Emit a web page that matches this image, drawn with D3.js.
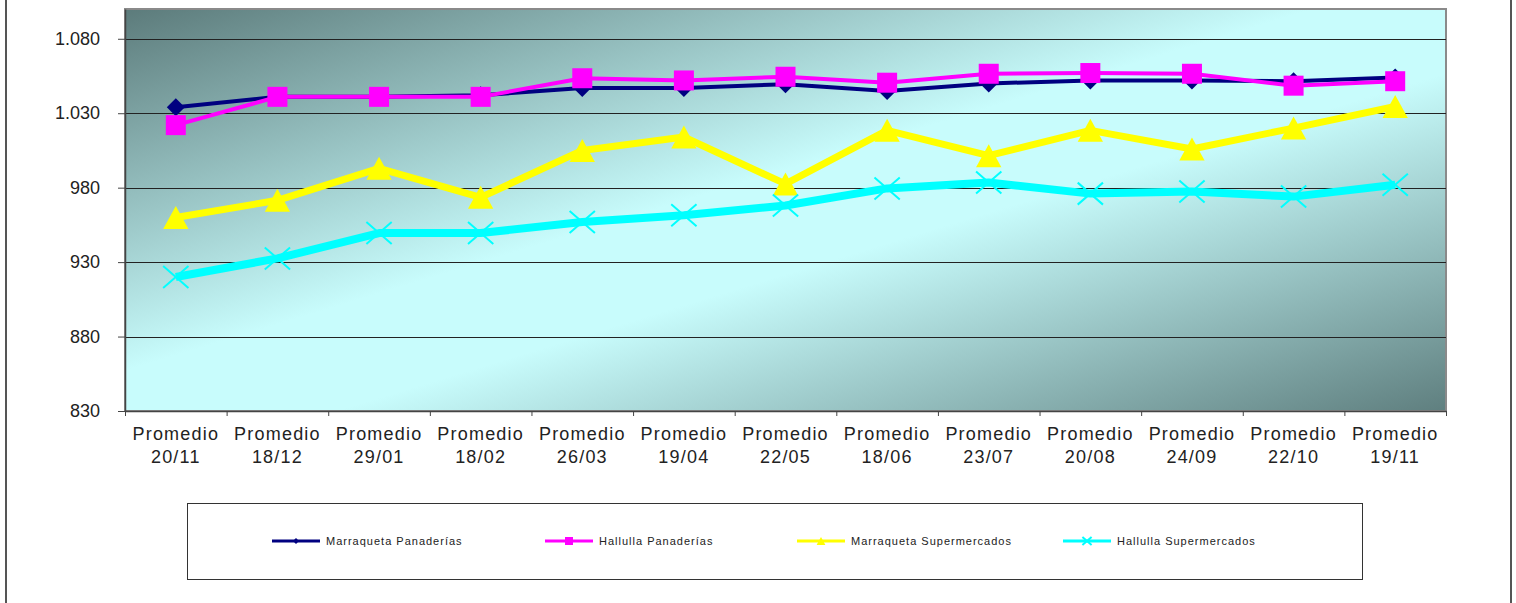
<!DOCTYPE html>
<html>
<head>
<meta charset="utf-8">
<script src="https://cdn.jsdelivr.net/npm/d3@7"></script>
<style>
  body { margin: 0; background: #fff; }
  text { font-family: Arial, "Liberation Sans", sans-serif; fill: #222; }
</style>
</head>
<body>
<svg width="1516" height="603"></svg>
<script>
// data
var fechas = ["20/11", "18/12", "29/01", "18/02", "26/03", "19/04", "22/05",
              "18/06", "23/07", "20/08", "24/09", "22/10", "19/11"];
var marraquetaPanaderias = [1034, 1041, 1041, 1042, 1047, 1047, 1049.5, 1045, 1050, 1052, 1052, 1051.5, 1054];
var hallullaPanaderias = [1022, 1041, 1041, 1041, 1053.5, 1052, 1054.5, 1050.5, 1056.5, 1057, 1056.5, 1048.5, 1051.5];
var marraquetaSuper = [960, 971.5, 993, 973.5, 1005, 1014, 982.5, 1018.5, 1001.5, 1018.5, 1006, 1020, 1034.5];
var hallullaSuper = [920, 932.5, 949.5, 949.5, 957, 961.5, 968, 979.5, 983.5, 976, 977.5, 974, 982];
var yTicks = [830, 880, 930, 980, 1030, 1080];

var series = [
  { name: "Marraqueta Panaderías", values: marraquetaPanaderias, color: "#000080", width: 4, marker: "diamond" },
  { name: "Hallulla Panaderías", values: hallullaPanaderias, color: "#ff00ff", width: 4, marker: "square" },
  { name: "Marraqueta Supermercados", values: marraquetaSuper, color: "#ffff00", width: 7, marker: "triangle" },
  { name: "Hallulla Supermercados", values: hallullaSuper, color: "#00ffff", width: 8, marker: "x" }
];

var svg = d3.select("svg");
var plotL = 125, plotR = 1446, plotT = 9, plotB = 411;

var x = d3.scaleBand().domain(fechas).range([plotL, plotR]);
var xEdge = d3.scaleLinear().domain([0, fechas.length]).range([plotL, plotR]);
var y = d3.scaleLinear().domain([830, 1100]).range([plotB, plotT]);

var fmt = d3.formatLocale({ decimal: ",", thousands: ".", grouping: [3], currency: ["$", ""] }).format(",");

// outer frame (only the sides show)
svg.append("line").attr("x1", 6).attr("x2", 6).attr("y1", 0).attr("y2", 603)
  .attr("stroke", "#555").attr("stroke-width", 2);
svg.append("line").attr("x1", 1511).attr("x2", 1511).attr("y1", 0).attr("y2", 603)
  .attr("stroke", "#555").attr("stroke-width", 2);

// plot background
var defs = svg.append("defs");
var grad = defs.append("linearGradient").attr("id", "bg")
  .attr("x1", 0).attr("y1", 0).attr("x2", 1).attr("y2", 1);
grad.append("stop").attr("offset", "0%").attr("stop-color", "#5c7b7b");
grad.append("stop").attr("offset", "45%").attr("stop-color", "#c8fcfc");
grad.append("stop").attr("offset", "58%").attr("stop-color", "#c8fcfc");
grad.append("stop").attr("offset", "100%").attr("stop-color", "#5f7f7f");

svg.append("rect").attr("x", plotL).attr("y", plotT)
  .attr("width", plotR - plotL).attr("height", plotB - plotT)
  .attr("fill", "url(#bg)").attr("stroke", "#8a8a8a").attr("stroke-width", 2);

// gridlines
svg.append("g").selectAll("line").data(yTicks.slice(1)).enter().append("line")
  .attr("x1", plotL).attr("x2", plotR)
  .attr("y1", function(d) { return Math.round(y(d)) + 0.5; })
  .attr("y2", function(d) { return Math.round(y(d)) + 0.5; })
  .attr("stroke", "#222").attr("stroke-width", 1);

// y axis
var yAxis = svg.append("g").attr("transform", "translate(" + plotL + ",0)")
  .call(d3.axisLeft(y).tickValues(yTicks).tickFormat(fmt).tickSize(7).tickPadding(18).tickSizeOuter(0));
yAxis.select(".domain").attr("stroke", "#444").attr("stroke-width", 1.5);
yAxis.selectAll(".tick line").attr("stroke", "#444");
yAxis.selectAll("text").style("font-size", "18px").attr("fill", "#222")
  .style("font-family", "Arial, 'Liberation Sans', sans-serif");

// x axis: ticks between categories
var xAxis = svg.append("g").attr("transform", "translate(0," + plotB + ")")
  .call(d3.axisBottom(xEdge).tickValues(d3.range(fechas.length + 1)).tickFormat("").tickSize(5).tickSizeOuter(0));
xAxis.select(".domain").attr("stroke", "#444").attr("stroke-width", 1.5);
xAxis.selectAll(".tick line").attr("stroke", "#444");

var xl = svg.append("g").selectAll("text").data(fechas).enter().append("text")
  .attr("text-anchor", "middle")
  .attr("transform", function(d) { return "translate(" + (x(d) + x.bandwidth() / 2) + ",0)"; })
  .style("font-size", "18px").style("letter-spacing", "1.2px");
xl.append("tspan").attr("x", 0).attr("y", 440).text("Promedio");
xl.append("tspan").attr("x", 0).attr("y", 463).text(function(d) { return d; });

// markers
function drawMarker(g, type, color, s) {
  if (type === "diamond") {
    g.append("path").attr("d", "M0," + (-s) + "L" + s + ",0L0," + s + "L" + (-s) + ",0Z").attr("fill", color);
  } else if (type === "square") {
    g.append("rect").attr("x", -s).attr("y", -s).attr("width", 2 * s).attr("height", 2 * s).attr("fill", color);
  } else if (type === "triangle") {
    g.append("path").attr("d", "M0," + (-s) + "L" + (s * 1.1) + "," + s + "L" + (-s * 1.1) + "," + s + "Z").attr("fill", color);
  } else {
    g.append("path").attr("d", "M" + (-s * 1.15) + "," + (-s) + "L" + (s * 1.15) + "," + s +
      "M" + (-s * 1.15) + "," + s + "L" + (s * 1.15) + "," + (-s))
      .attr("stroke", color).attr("stroke-width", 2).attr("fill", "none");
  }
}
var markerSize = { diamond: 9, square: 10, triangle: 11.5, x: 11 };

var line = d3.line()
  .x(function(d, i) { return x(fechas[i]) + x.bandwidth() / 2; })
  .y(function(d) { return y(d); });

series.forEach(function(s) {
  var g = svg.append("g");
  g.append("path").datum(s.values).attr("d", line)
    .attr("fill", "none").attr("stroke", s.color).attr("stroke-width", s.width)
    .attr("stroke-linejoin", "round");
  g.selectAll("g.m").data(s.values).enter().append("g")
    .attr("transform", function(d, i) { return "translate(" + (x(fechas[i]) + x.bandwidth() / 2) + "," + y(d) + ")"; })
    .each(function() { drawMarker(d3.select(this), s.marker, s.color, markerSize[s.marker]); });
});

// legend
svg.append("rect").attr("x", 187.5).attr("y", 503.5).attr("width", 1175).attr("height", 76)
  .attr("fill", "#fff").attr("stroke", "#333").attr("stroke-width", 1);
var legendX = [272, 545, 797, 1063];
var legendMarker = { diamond: 3, square: 4, triangle: 4, x: 4 };
series.forEach(function(s, i) {
  var g = svg.append("g").attr("transform", "translate(" + legendX[i] + ",541)");
  g.append("line").attr("x1", 0).attr("x2", 48).attr("stroke", s.color).attr("stroke-width", 3);
  var m = g.append("g").attr("transform", "translate(24,0)");
  drawMarker(m, s.marker, s.color, legendMarker[s.marker]);
  g.append("text").attr("x", 54).attr("y", 4).text(s.name)
    .style("font-size", "11px").style("letter-spacing", "1px");
});
</script>
</body>
</html>
